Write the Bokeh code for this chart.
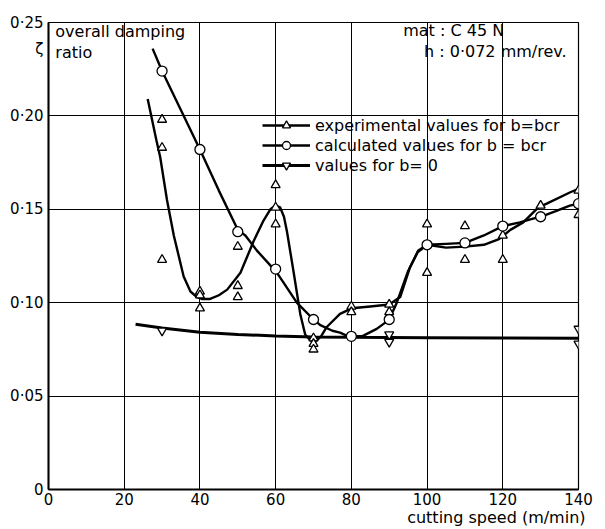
from bokeh.plotting import figure
from bokeh.models import Range1d, FixedTicker, Label, Legend, LegendItem, LinearAxis
from bokeh.embed import file_html
from bokeh.resources import INLINE

FONT = "DejaVu Sans"

# ---- axes ----
x_ticks = [0, 20, 40, 60, 80, 100, 120, 140]
y_ticks = [0, 0.05, 0.10, 0.15, 0.20, 0.25]
y_tick_labels = ["0", "0·05", "0·10", "0·15", "0·20", "0·25"]
y_symbol_pos = 0.236
y_symbol = "ζ"
x_title = "cutting speed (m/min)"
x_title_pos = 118.3

# ---- measured points ----
exp_x = [30, 30, 30, 40, 40, 40, 50, 50, 50, 60, 60, 60, 70, 70, 70,
         80, 80, 90, 90, 100, 100, 100, 110, 110, 120, 120, 130, 140, 140]
exp_y = [0.198, 0.183, 0.123, 0.106, 0.104, 0.097, 0.130, 0.109, 0.103,
         0.163, 0.151, 0.142, 0.081, 0.078, 0.075, 0.098, 0.095, 0.099, 0.095,
         0.142, 0.131, 0.116, 0.141, 0.123, 0.136, 0.123, 0.152, 0.160, 0.147]

calc_x = [30, 40, 50, 60, 70, 80, 90, 100, 110, 120, 130, 140]
calc_y = [0.224, 0.182, 0.138, 0.118, 0.091, 0.082, 0.091, 0.131, 0.132, 0.141, 0.146, 0.153]

zero_x = [30, 90, 90, 140, 140]
zero_y = [0.085, 0.083, 0.079, 0.086, 0.078]

# ---- hand-drawn curves ----
exp_curve_x = [26.2, 28.5, 29.5, 31.3, 33.1, 35.7, 37.5, 39.2, 40.5, 42.7, 45, 47.2,
               50.7, 54.2, 56.8, 58.6, 60, 61.2, 62.2, 63.0, 64.7, 66.5, 67.8, 69.1,
               70.4, 72, 73.5, 77, 80.1, 85, 90, 92.9, 95.5, 97.7, 100, 105, 110,
               115, 119, 122, 125.4, 129.4, 131.6, 137.7, 140]
exp_curve_y = [0.209, 0.187, 0.178, 0.155, 0.136, 0.114, 0.106, 0.103, 0.102, 0.102,
               0.104, 0.107, 0.116, 0.133, 0.144, 0.150, 0.152, 0.151, 0.146, 0.138,
               0.117, 0.094, 0.083, 0.080, 0.079, 0.082, 0.087, 0.094, 0.097, 0.098,
               0.099, 0.103, 0.119, 0.128, 0.131, 0.1295, 0.130, 0.131, 0.134, 0.139,
               0.143, 0.151, 0.153, 0.159, 0.161]

calc_curve_x = [27.5, 30, 35, 40, 45, 50, 52, 55, 58.6, 60, 62, 65.6, 70, 71.8, 75,
                77, 79.2, 80, 82.8, 86.7, 89.4, 90, 92, 95, 97.5, 100, 105, 110, 115,
                120, 124.5, 128, 130, 134, 137.7, 140]
calc_curve_y = [0.236, 0.224, 0.203, 0.182, 0.160, 0.139, 0.136, 0.128, 0.120, 0.117,
                0.111, 0.100, 0.091, 0.088, 0.085, 0.084, 0.082, 0.082, 0.082, 0.086,
                0.090, 0.091, 0.100, 0.117, 0.127, 0.131, 0.1315, 0.132, 0.136, 0.141,
                0.143, 0.145, 0.146, 0.149, 0.152, 0.153]

zero_curve_x = [23, 30, 40, 50, 60, 70, 80, 100, 120, 140]
zero_curve_y = [0.0885, 0.0865, 0.0842, 0.0830, 0.0822, 0.0817, 0.0815, 0.0813, 0.0811, 0.0810]

p = figure(width=600, height=529, x_range=Range1d(0, 140), y_range=Range1d(0, 0.25),
           output_backend="svg", toolbar_location=None,
           min_border_left=48, min_border_right=22, min_border_top=22, min_border_bottom=38)

p.outline_line_color = "black"
p.outline_line_width = 1.2

for ax in (p.xaxis, p.yaxis):
    ax.axis_line_width = 2
    ax.axis_line_color = "black"
    ax.major_tick_in = 0
    ax.major_tick_out = 0
    ax.minor_tick_line_color = None
    ax.major_label_text_font = FONT
    ax.major_label_text_font_size = "15px"
    ax.major_label_text_color = "black"

p.xaxis.ticker = FixedTicker(ticks=x_ticks)
p.yaxis.ticker = FixedTicker(ticks=y_ticks + [y_symbol_pos])
overrides = {t: s for t, s in zip(y_ticks, y_tick_labels)}
overrides[y_symbol_pos] = y_symbol
p.yaxis.major_label_overrides = overrides
p.xaxis.major_label_standoff = 3
p.yaxis.major_label_standoff = 5

# axis title, right-aligned under the tick labels
title_axis = LinearAxis(ticker=FixedTicker(ticks=[x_title_pos]),
                        major_label_overrides={x_title_pos: x_title},
                        axis_line_color=None, major_tick_line_color=None,
                        minor_tick_line_color=None, major_label_standoff=0,
                        major_tick_in=0, major_tick_out=0,
                        major_label_text_font=FONT, major_label_text_font_size="16px",
                        major_label_text_color="black")
p.add_layout(title_axis, "below")

p.xgrid.grid_line_color = "black"
p.ygrid.grid_line_color = "black"
p.xgrid.grid_line_width = 1
p.ygrid.grid_line_width = 1
p.ygrid.ticker = FixedTicker(ticks=y_ticks)
p.xgrid.ticker = FixedTicker(ticks=x_ticks)

# curves
zl = p.line(zero_curve_x, zero_curve_y, line_color="black", line_width=3)
el = p.line(exp_curve_x, exp_curve_y, line_color="black", line_width=2.4)
cl = p.line(calc_curve_x, calc_curve_y, line_color="black", line_width=2.4)

# markers
es = p.scatter(exp_x, exp_y, marker="triangle", size=9, fill_color="white",
               line_color="black", line_width=1.3)
cs = p.scatter(calc_x, calc_y, marker="circle", size=10, fill_color="white",
               line_color="black", line_width=1.3)
zs = p.scatter(zero_x, zero_y, marker="inverted_triangle", size=9, fill_color="white",
               line_color="black", line_width=1.3)

legend = Legend(items=[
    LegendItem(label="experimental values for b=bcr", renderers=[el, es]),
    LegendItem(label="calculated values for b = bcr", renderers=[cl, cs]),
    LegendItem(label="values for b= 0", renderers=[zl, zs]),
], location=(214, 314), orientation="vertical", background_fill_alpha=0,
    border_line_alpha=0, padding=0, margin=0, spacing=0, glyph_width=48,
    glyph_height=20, label_height=20, label_standoff=5,
    label_text_font=FONT, label_text_font_size="16px", label_text_color="black")
p.add_layout(legend)

def lab(x, y, text, align="left"):
    p.add_layout(Label(x=x, y=y, text=text, text_font=FONT, text_font_size="16px",
                       text_color="black", text_align=align, text_baseline="middle"))

lab(1.8, 0.2452, "overall damping")
lab(1.8, 0.234, "ratio")
lab(93.7, 0.2455, "mat : C 45 N")
lab(99.2, 0.2345, "h : 0·072 mm/rev.")

open("out.html", "w").write(file_html(p, INLINE))
